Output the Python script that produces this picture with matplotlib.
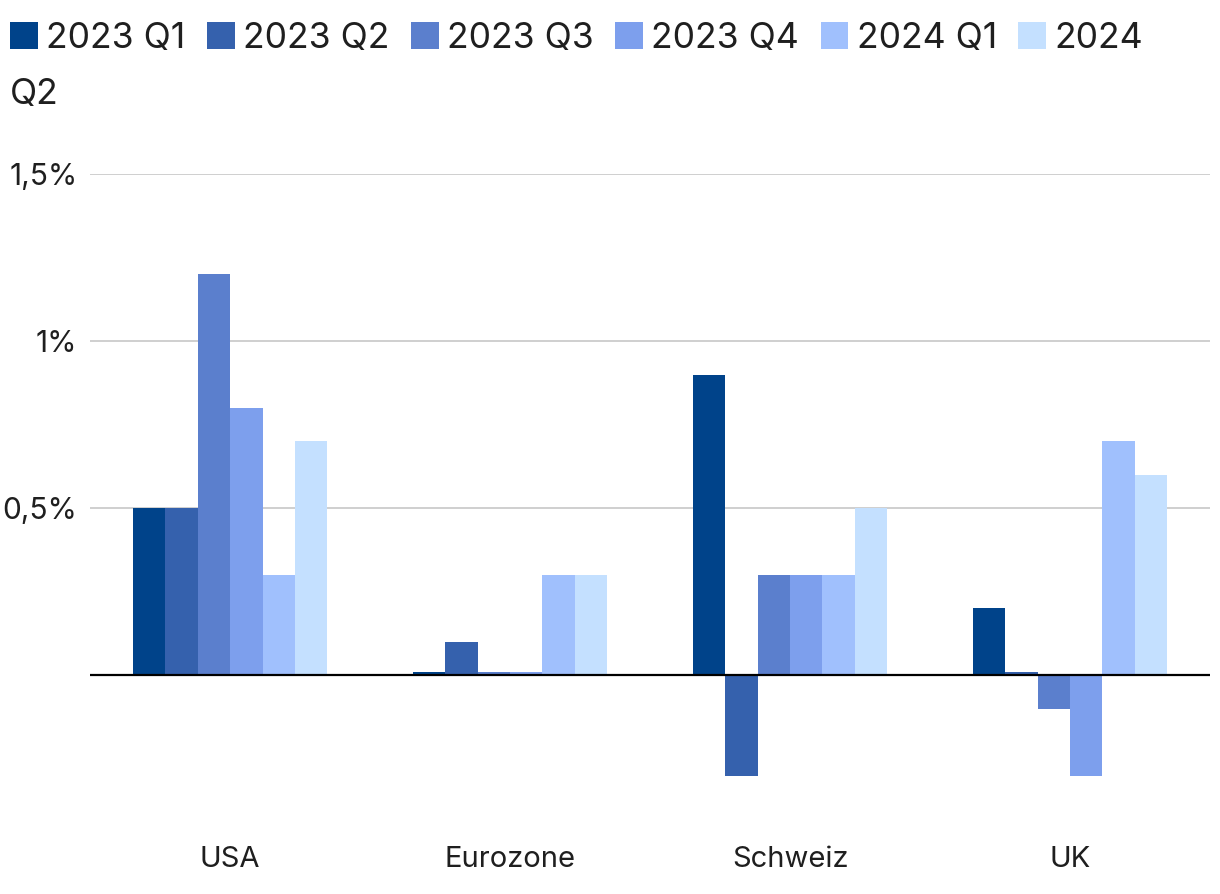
import numpy as np
import matplotlib
matplotlib.use('Agg')
import matplotlib.pyplot as plt
from matplotlib.ticker import FuncFormatter

plt.rcParams['font.family'] = ['Inter', 'DejaVu Sans']

regions = ['USA', 'Eurozone', 'Schweiz', 'UK']
quarters = ['2023 Q1', '2023 Q2', '2023 Q3', '2023 Q4', '2024 Q1', '2024 Q2']
q23_1 = [0.5, 0.01, 0.9, 0.2]
q23_2 = [0.5, 0.1, -0.3, 0.01]
q23_3 = [1.2, 0.01, 0.3, -0.1]
q23_4 = [0.8, 0.01, 0.3, -0.3]
q24_1 = [0.3, 0.3, 0.3, 0.7]
q24_2 = [0.7, 0.3, 0.5, 0.6]
series = [q23_1, q23_2, q23_3, q23_4, q24_1, q24_2]
colors = ['#00438A', '#3561AD', '#5B7FCD', '#7D9FED', '#A0C0FD', '#C4E0FF']

fig = plt.figure(figsize=(12.2, 8.94), dpi=100)
ax = fig.add_axes([0.0738, 0.0951, 0.918, 0.7103])

x = np.arange(len(regions))
w = 0.696 / 6
for i, vals in enumerate(series):
    ax.bar(x - 0.348 + w * (i + 0.5), vals, width=w, color=colors[i], label=quarters[i], zorder=2)

ax.set_xlim(-0.5, 3.5)
ax.set_ylim(-0.4, 1.5)
ax.set_yticks([0.5, 1.0, 1.5])
ax.yaxis.set_major_formatter(FuncFormatter(lambda v, p: ('%g%%' % v).replace('.', ',')))
ax.grid(axis='y', color='#cccccc', lw=1.3, zorder=0)
ax.axhline(0, color='black', lw=1.6, zorder=3)
ax.set_xticks(x)
ax.set_xticklabels(regions)
for s in ax.spines.values():
    s.set_visible(False)
ax.tick_params(axis='x', length=0, pad=27, labelsize=21, colors='#1f1f1f')
ax.tick_params(axis='y', length=0, pad=9, labelsize=21.5, colors='#1f1f1f')

handles, labels = ax.get_legend_handles_labels()
labels[-1] = '2024'
fig.legend(handles, labels, loc='upper left', bbox_to_anchor=(10 / 1220, 1 - 22 / 894),
           ncol=6, frameon=False, fontsize=25.6, handlelength=0.78, handleheight=0.78,
           handletextpad=0.24, columnspacing=0.6, borderpad=0, borderaxespad=0,
           labelcolor='#1f1f1f')
fig.text(10 / 1220, 1 - 104 / 894, 'Q2', fontsize=25.6, color='#1f1f1f', va='baseline')

fig.savefig('out.png', dpi=100)
